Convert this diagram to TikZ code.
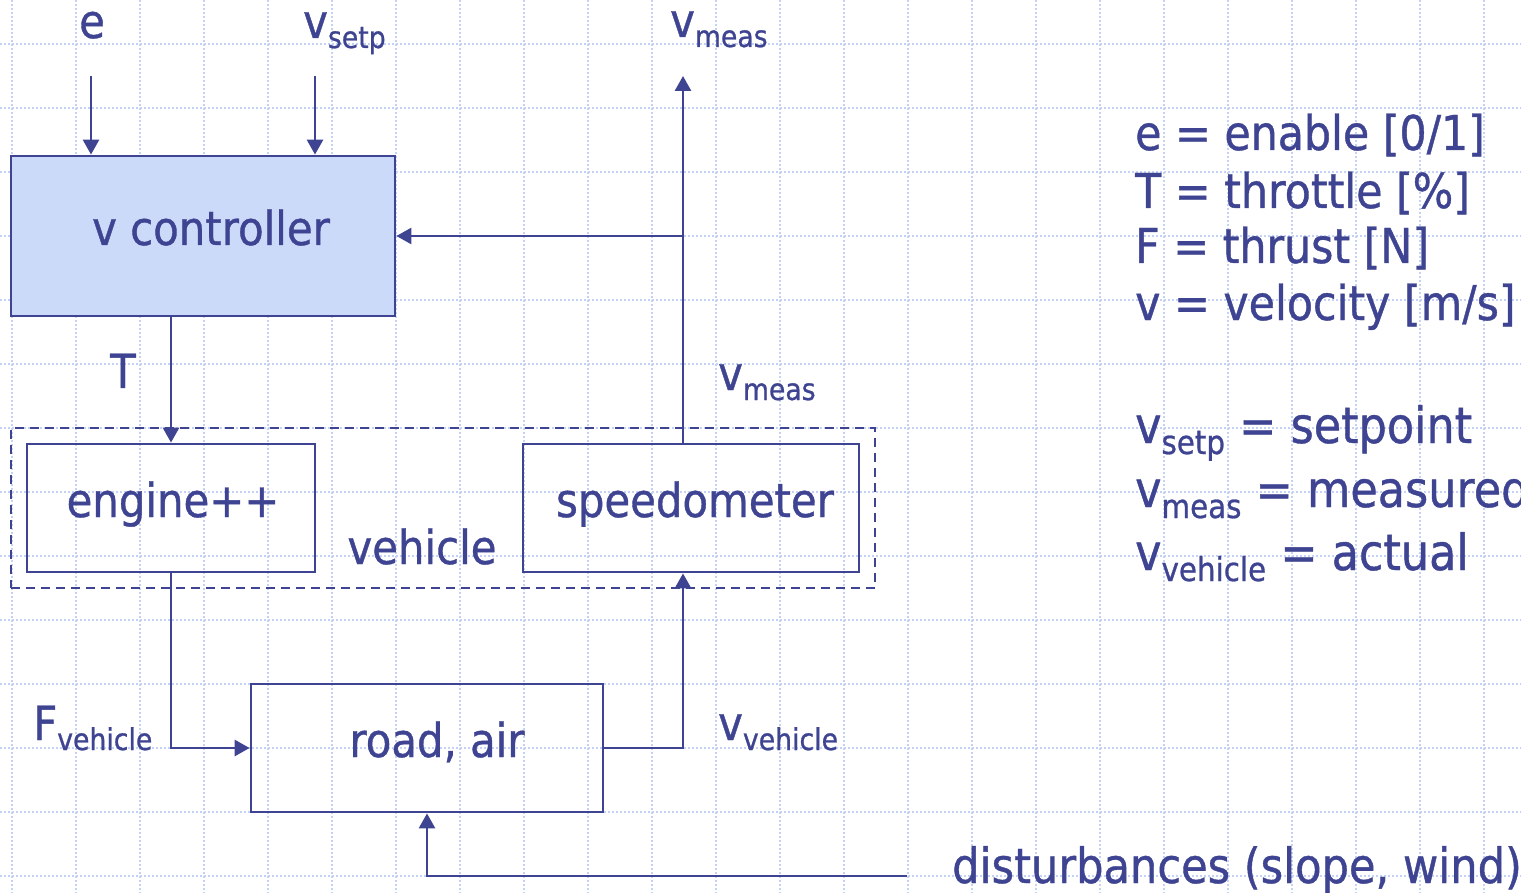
\documentclass[tikz,border=0pt]{standalone}
\usepackage{fontspec}
\setmainfont{DejaVu Sans}[FakeStretch=0.89, FakeBold=0.8]
\usetikzlibrary{arrows.meta}
\definecolor{ink}{RGB}{62,68,145}
\definecolor{ctrlfill}{RGB}{204,218,250}
\definecolor{gridc}{RGB}{196,210,245}
\newcommand\lsub[1]{\raisebox{-10pt}{\fontsize{30}{30}\selectfont #1}}
\newcommand\Lsub[1]{\raisebox{-11pt}{\fontsize{33}{33}\selectfont #1}}
\begin{document}
\begin{tikzpicture}[x=1pt,y=-1pt,
  blk/.style={draw=ink, line width=2.8pt, inner sep=0pt},
  arr/.style={draw=ink, line width=2.8pt, -{Triangle[length=15pt,width=16pt]}},
  txt/.style={text=ink, inner sep=0pt, font=\fontsize{47}{56}\selectfont},
  lbl/.style={txt, anchor=base west},
  leg/.style={txt, anchor=base west, font=\fontsize{48}{58}\selectfont},
  leg2/.style={txt, anchor=base west, font=\fontsize{50}{60}\selectfont}]
\useasboundingbox (0,0) rectangle (1521,893);
\fill[white] (0,0) rectangle (1521,893);
\begin{scope}[draw=gridc, line width=1.6pt, dash pattern=on 2pt off 2pt]
\foreach \x in {12,76,...,1500} \draw (\x,0) -- (\x,893);
\foreach \y in {44,108,...,880} \draw (0,\y) -- (1521,\y);
\end{scope}

% blocks
\node[blk, fill=ctrlfill, minimum width=384pt, minimum height=160pt] (ctrl) at (203,236) {};
\node[txt, anchor=base] (ctrltxt) at (211,245) {v controller};
\node[draw=ink, line width=2.2pt, dash pattern=on 9pt off 6pt, minimum width=864pt, minimum height=160pt, inner sep=0pt] (veh) at (443,508) {};
\node[blk, minimum width=288pt, minimum height=128pt] (eng) at (171,508) {};
\node[txt, anchor=base] (engtxt) at (173,517) {engine++};
\node[blk, minimum width=336pt, minimum height=128pt] (spd) at (691,508) {};
\node[txt, anchor=base] (spdtxt) at (695,517) {speedometer};
\node[txt, anchor=base] (vehtxt) at (422,564) {vehicle};
\node[blk, minimum width=352pt, minimum height=128pt] (road) at (427,748) {};
\node[txt, anchor=base] (roadtxt) at (437,757) {road, air};

% labels
\node[lbl] (le) at (79,38) {e};
\node[lbl] (lsetp) at (303,38) {v\lsub{setp}};
\node[lbl] (lmeas1) at (670,37) {v\lsub{meas}};
\node[lbl] (lT) at (110,388) {T};
\node[lbl] (lmeas2) at (718,390) {v\lsub{meas}};
\node[lbl] (lF) at (33,740) {F\lsub{vehicle}};
\node[lbl] (lveh) at (718,740) {v\lsub{vehicle}};
\node[lbl, font=\fontsize{48.5}{58}\selectfont] (ldist) at (952,883) {disturbances (slope, wind)};

% legend
\node[leg] (g1) at (1135,150) {e = enable [0/1]};
\node[leg] (g2) at (1135,208) {T = throttle [\%]};
\node[leg] (g3) at (1135,263) {F = thrust [N]};
\node[leg] (g4) at (1135,320) {v = velocity [m/s]};
\node[leg2] (g5) at (1135,443) {v\Lsub{setp} = setpoint};
\node[leg2] (g6) at (1135,507) {v\Lsub{meas} = measured};
\node[leg2] (g7) at (1135,570) {v\Lsub{vehicle} = actual};

% connectors
\coordinate (ein) at (91,76);
\coordinate (sin) at (315,76);
\coordinate (mout) at (683,76);
\coordinate (fb) at (683,236);
\coordinate (vx) at (683,660);
\coordinate (dist) at (907,876);
\draw[arr] (ein) -- (ein |- ctrl.north);
\draw[arr] (sin) -- (sin |- ctrl.north);
\draw[arr] (spd.north -| mout) -- (mout);
\draw[arr] (fb) -- (ctrl.east);
\draw[arr] (ctrl.south -| eng.north) -- (eng.north);
\draw[arr] (eng.south) |- (road.west);
\draw[arr] (road.east) -| (spd.south -| vx);
\draw[arr] (dist) -| (road.south);
\end{tikzpicture}
\end{document}
